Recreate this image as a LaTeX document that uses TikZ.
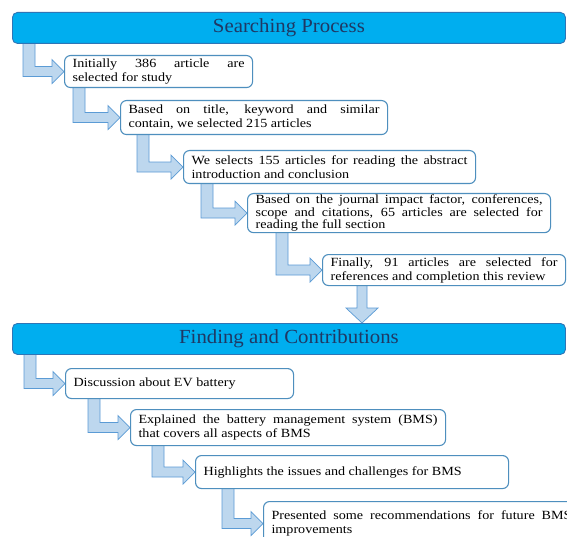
\documentclass[tikz,border=0pt]{standalone}
\usepackage{fontspec}
\setmainfont{Liberation Serif}[FakeStretch=1.13]
\newfontfamily\bannerfont{Liberation Serif}[FakeStretch=1.04]
\usetikzlibrary{calc,backgrounds}
\definecolor{bannerfill}{HTML}{00AEEF}
\definecolor{bannerline}{HTML}{2E75B6}
\definecolor{bannertext}{HTML}{1F3864}
\definecolor{boxline}{HTML}{4E8FBE}
\definecolor{arrowfill}{HTML}{BDD7EE}
\definecolor{arrowline}{HTML}{5B9BD5}
\newcommand\elbowarr[3]{%
  \path ($(#1.south west)+(#3,-2)$) coordinate (ea) (#2.west) coordinate (et);
  \filldraw[elbowarrow] (ea) -- ++(12,0) -- ($(ea |- et)+(12,-5)$) -- ($(et)+(-12,-5)$)
    -- ($(et)+(-12,-12)$) -- (et) -- ($(et)+(-12,12)$) -- ($(et)+(-12,5)$)
    -- ($(ea |- et)+(0,5)$) -- cycle;
}
\begin{document}
\begin{tikzpicture}[x=1pt,y=-1pt,
  banner/.style={draw=bannerline, fill=bannerfill, rounded corners=5pt, line width=0.9pt,
    minimum width=553pt, minimum height=31pt, anchor=north west, inner sep=0pt,
    font=\bannerfont\fontsize{20}{22}\selectfont, text=bannertext},
  stepbox/.style={draw=boxline, fill=white, rounded corners=6pt, line width=1.1pt,
    anchor=north west, inner xsep=8pt, inner ysep=1pt, align=justify,
    font=\fontsize{12.5}{14}\selectfont, text=black},
  tight/.style={font=\fontsize{12.5}{12.8}\selectfont},
  elbowarrow/.style={fill=arrowfill, draw=arrowline, line width=0.7pt, line join=miter},
]
\useasboundingbox (0,0) rectangle (567,537);

\node[banner] (ban1) at (12,12) {Searching Process};
\node[stepbox, text width=172pt, minimum height=32pt] (b1) at (64,55)
  {Initially 386 article are\linebreak selected for study};
\node[stepbox, text width=251pt, minimum height=34pt] (b2) at (120,100)
  {Based on title, keyword and similar\linebreak contain, we selected 215 articles};
\node[stepbox, text width=276pt, minimum height=33pt] (b3) at (183,150)
  {We selects 155 articles for reading the abstract\linebreak introduction and conclusion};
\node[stepbox, tight, text width=287pt, minimum height=38pt] (b4) at (247,193)
  {Based on the journal impact factor, conferences,\linebreak scope and citations, 65 articles are selected for\linebreak reading the full section};
\node[stepbox, text width=227pt, minimum height=31pt] (b5) at (322,254)
  {Finally, 91 articles are selected for\linebreak references and completion this review};

\node[banner] (ban2) at (12,323) {Finding and Contributions};
\node[stepbox, text width=212pt, minimum height=30pt] (b6) at (65,368)
  {Discussion about EV battery};
\node[stepbox, text width=299pt, minimum height=36pt] (b7) at (130,409)
  {Explained the battery management system (BMS)\linebreak that covers all aspects of BMS};
\node[stepbox, text width=297pt, minimum height=33pt] (b8) at (195,455)
  {Highlights the issues and challenges for BMS};
\node[stepbox, text width=300pt, minimum height=44pt] (b9) at (263,501)
  {Presented some recommendations for future BMS\linebreak improvements};

\begin{scope}[on background layer]
  \fill[white] (0,0) rectangle (567,537);
  \elbowarr{ban1}{b1}{11}
  \elbowarr{b1}{b2}{9}
  \elbowarr{b2}{b3}{17}
  \elbowarr{b3}{b4}{18}
  \elbowarr{b4}{b5}{29}
  \elbowarr{ban2}{b6}{12}
  \elbowarr{b6}{b7}{23}
  \elbowarr{b7}{b8}{22}
  \elbowarr{b8}{b9}{27}
  % down arrow from b5 to second banner
  \path ($(b5.south west)+(40,-2)$) coordinate (dt) (dt |- ban2.north) coordinate (db);
  \filldraw[elbowarrow] ($(dt)+(-5,0)$) -- ($(db)+(-5,-15)$) -- ($(db)+(-16,-15)$) -- (db)
    -- ($(db)+(16,-15)$) -- ($(db)+(5,-15)$) -- ($(dt)+(5,0)$) -- cycle;
\end{scope}
\end{tikzpicture}
\end{document}
